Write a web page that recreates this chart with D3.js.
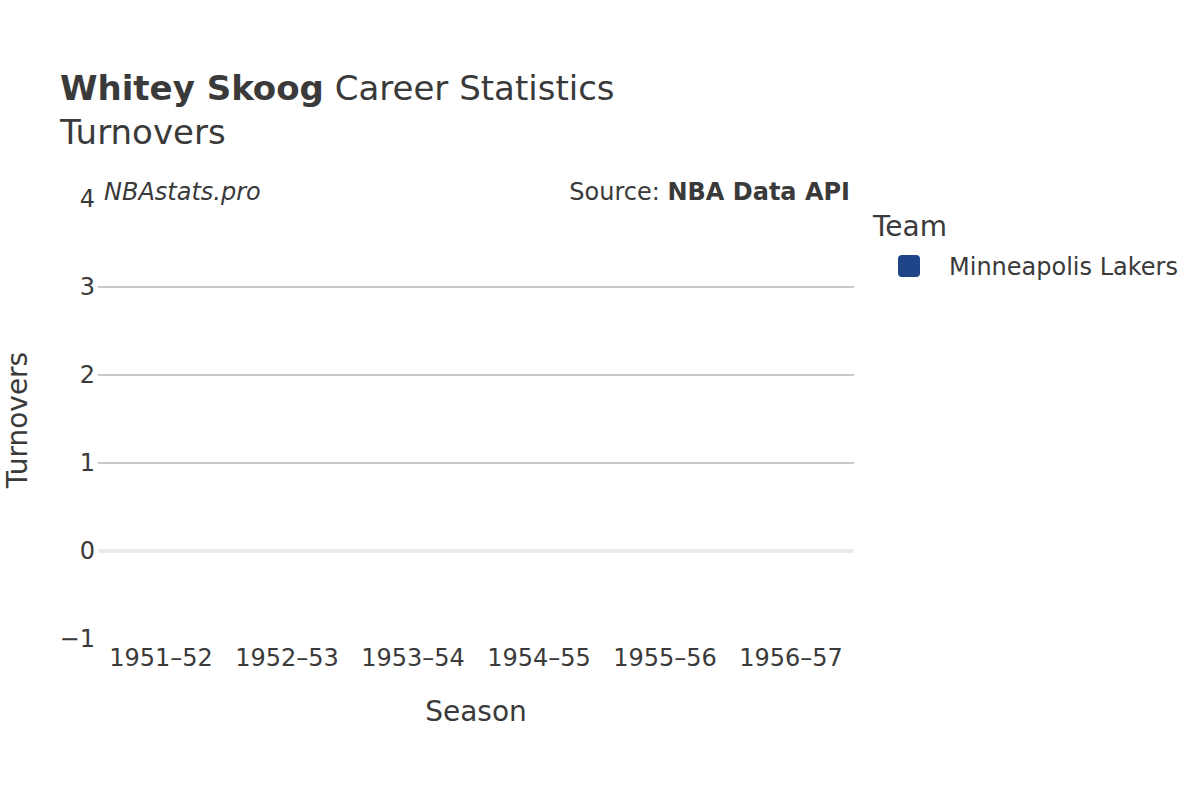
<!DOCTYPE html>
<html><head><meta charset="utf-8">
<script src="https://cdn.jsdelivr.net/npm/d3@7"></script>
<style>body{margin:0;background:#fff;} text{font-family:"DejaVu Sans",sans-serif;fill:#3a3a3a;}</style>
</head><body>
<svg id="c" width="1200" height="800"></svg>
<script>
const seasons = ["1951–52","1952–53","1953–54","1954–55","1955–56","1956–57"];
const turnovers = []; // no turnover data recorded for these seasons
const yTicks = [-1,0,1,2,3,4];
const teams = ["Minneapolis Lakers"];
const teamColors = ["#1f4488"];

const svg = d3.select("#c");
const x = d3.scaleBand().domain(seasons).range([98,854]).padding(0);
const y = d3.scaleLinear().domain([-1,4]).range([639,199]);

// gridlines
svg.append("g").selectAll("line").data(yTicks.filter(d=>d>0&&d<4)).join("line")
  .attr("x1",98).attr("x2",854).attr("y1",d=>y(d)).attr("y2",d=>y(d))
  .attr("stroke","#c8c8c8").attr("stroke-width",2);
svg.append("line").attr("x1",98).attr("x2",854).attr("y1",y(0)).attr("y2",y(0))
  .attr("stroke","#ececec").attr("stroke-width",4);

// y tick labels
svg.append("g").selectAll("text").data(yTicks).join("text")
  .attr("x",95).attr("y",d=>y(d)+8).attr("text-anchor","end")
  .style("font-size","24px").text(d=>d<0?"−"+Math.abs(d):d);

// x tick labels
svg.append("g").selectAll("text").data(seasons).join("text")
  .attr("x",d=>x(d)+x.bandwidth()/2).attr("y",666).attr("text-anchor","middle")
  .style("font-size","24px").text(d=>d);

// bars (none)
svg.append("g").selectAll("rect").data(turnovers).join("rect")
  .attr("x",d=>x(d.season)+10).attr("width",x.bandwidth()-20)
  .attr("y",d=>y(d.value)).attr("height",d=>y(0)-y(d.value)).attr("fill",teamColors[0]);

// titles
const t = svg.append("text").attr("x",60).attr("y",100).style("font-size","34px");
t.append("tspan").style("font-weight","bold").text("Whitey Skoog");
t.append("tspan").text(" Career Statistics");
svg.append("text").attr("x",60).attr("y",144).style("font-size","34px").text("Turnovers");

svg.append("text").attr("x",476).attr("y",721).attr("text-anchor","middle").style("font-size","28px").text("Season");
svg.append("text").attr("transform","translate(27,420) rotate(-90)").attr("text-anchor","middle").style("font-size","28px").text("Turnovers");

// annotations
svg.append("text").attr("x",104).attr("y",200).style("font-size","24px").style("font-style","italic").text("NBAstats.pro");
const s = svg.append("text").attr("x",850).attr("y",200).attr("text-anchor","end").style("font-size","24px");
s.append("tspan").text("Source: ");
s.append("tspan").style("font-weight","bold").text("NBA Data API");

// legend
svg.append("text").attr("x",873).attr("y",236).style("font-size","28px").text("Team");
const lg = svg.append("g").selectAll("g").data(teams).join("g");
lg.append("rect").attr("x",898).attr("y",(d,i)=>255+i*30).attr("width",22).attr("height",22).attr("rx",4)
  .attr("fill",(d,i)=>teamColors[i]);
lg.append("text").attr("x",949).attr("y",(d,i)=>275+i*30).style("font-size","24px").text(d=>d);
</script>
</body></html>
